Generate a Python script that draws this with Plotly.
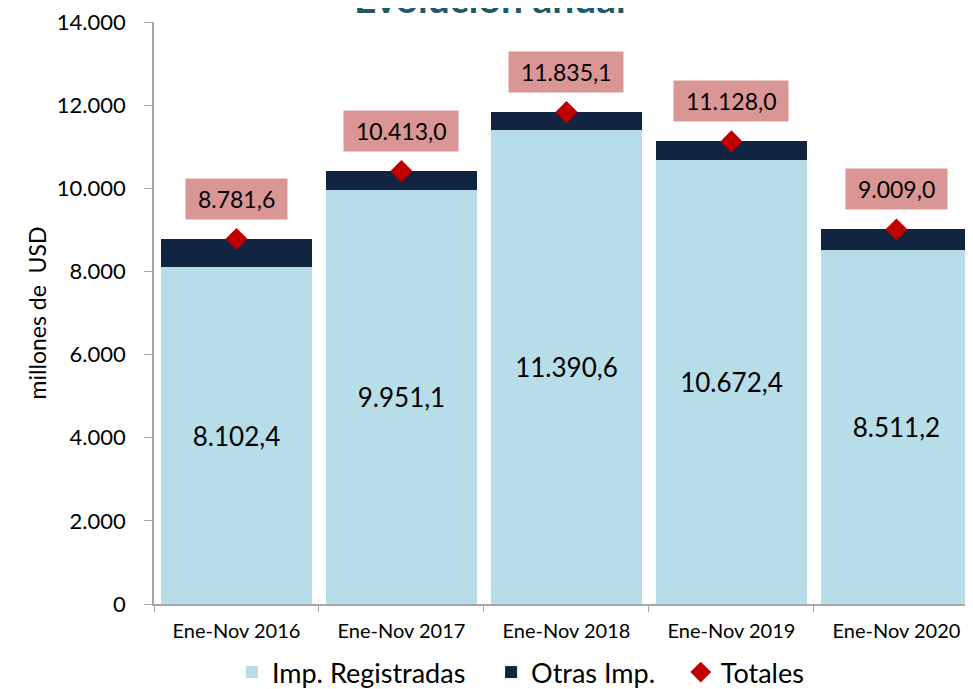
import plotly.graph_objects as go

categories = ["Ene-Nov 2016", "Ene-Nov 2017", "Ene-Nov 2018", "Ene-Nov 2019", "Ene-Nov 2020"]
registradas = [8102.4, 9951.1, 11390.6, 10672.4, 8511.2]
totales = [8781.6, 10413.0, 11835.1, 11128.0, 9009.0]
otras = [round(t - r, 1) for t, r in zip(totales, registradas)]
tick_vals = [0, 2000, 4000, 6000, 8000, 10000, 12000, 14000]
tick_text = ["0", "2.000", "4.000", "6.000", "8.000", "10.000", "12.000", "14.000"]


def fmt(v):
    s = f"{v:,.1f}"
    return s.replace(",", "X").replace(".", ",").replace("X", ".")


FONT = "Lato"
SP = "\u00a0" * 3
fig = go.Figure()
fig.add_trace(go.Bar(
    x=categories, y=registradas, name="Imp. Registradas" + SP,
    marker=dict(color="#B7DDE8", line=dict(width=0)),
    text=[fmt(v) for v in registradas], textposition="inside",
    insidetextanchor="middle", textangle=0,
    textfont=dict(family=FONT, size=26, color="#000000"),
))
fig.add_trace(go.Bar(
    x=categories, y=otras, name="Otras Imp." + SP,
    marker=dict(color="#112540", line=dict(width=0)),
    hoverinfo="y",
))
fig.add_trace(go.Scatter(
    x=categories, y=totales, name="Totales", mode="markers",
    marker=dict(symbol="diamond", size=17, color="#C00000"),
))

for c, t in zip(categories, totales):
    fig.add_annotation(
        x=c, y=t, xref="x", yref="y", text="\u00a0" + fmt(t) + "\u00a0",
        showarrow=False, yanchor="bottom", yshift=19,
        bgcolor="#DA9694", borderpad=6,
        font=dict(family=FONT, size=23, color="#000000"),
    )

fig.add_annotation(
    x=(482 - 146) / 819, y=1, xref="paper", yref="paper",
    text="<b>Evolución anual</b>", showarrow=False,
    xanchor="center", yanchor="bottom", yshift=-1,
    font=dict(family=FONT, size=39, color="#215968"),
)

fig.update_layout(
    width=965, height=681,
    margin=dict(l=146, r=0, t=14, b=85, autoexpand=False),
    barmode="stack", bargap=0.09,
    paper_bgcolor="white", plot_bgcolor="white",
    font=dict(family=FONT, color="#000000"),
    showlegend=True,
    legend=dict(
        orientation="h", x=(516 - 146) / 819 - 0.0044, xanchor="center",
        y=-0.0756, yanchor="top",
        font=dict(family=FONT, size=27, color="#000000"),
        traceorder="normal", itemwidth=30,
    ),
    xaxis=dict(
        range=[-0.5, 4.464], showline=True, linecolor="#A6A6A6", linewidth=1.5,
        ticks="outside", tickson="boundaries", ticklen=6, tickcolor="#A6A6A6",
        ticklabelstandoff=8,
        tickfont=dict(family=FONT, size=20, color="#000000"),
        showgrid=False, fixedrange=True, automargin=False,
    ),
    yaxis=dict(
        range=[0, 14000], tickvals=tick_vals, ticktext=tick_text,
        showline=True, linecolor="#A6A6A6", linewidth=1.5,
        ticks="outside", ticklen=8, tickcolor="#A6A6A6",
        ticklabelstandoff=14, automargin=False, ticklabeloverflow="allow",
        tickfont=dict(family=FONT, size=22, color="#000000"),
        showgrid=False, zeroline=False,
        title=dict(text="millones de  USD", font=dict(family=FONT, size=23, color="#000000"), standoff=4),
    ),
)

fig.write_html("out.html")
